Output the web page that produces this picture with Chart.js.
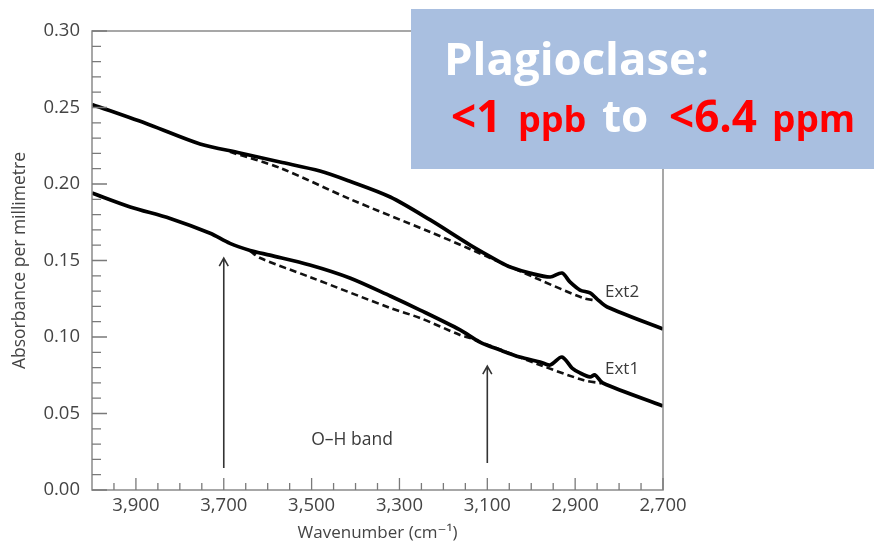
<!DOCTYPE html>
<html><head><meta charset="utf-8">
<script src="https://cdn.jsdelivr.net/npm/chart.js@4.4.0/dist/chart.umd.min.js"></script>
<style>html,body{margin:0;padding:0;background:#fff;} #wrap{position:relative;width:874px;height:543px;}</style>
</head><body><div id="wrap"><canvas id="c" width="874" height="543"></canvas></div>
<script>
// ---- data ----
const xTickLabels = [3900, 3700, 3500, 3300, 3100, 2900, 2700];
const yTickLabels = [0, 0.05, 0.10, 0.15, 0.20, 0.25, 0.30];

const ext2Wn  = [4000, 3868, 3754, 3663, 3572, 3481, 3413, 3321, 3230, 3139, 3071, 3048, 3003, 2957, 2930, 2912, 2889, 2866, 2850, 2827, 2700];
const ext2Abs = [0.252, 0.2386, 0.2262, 0.2203, 0.2144, 0.2085, 0.2018, 0.1915, 0.1765, 0.1601, 0.149, 0.1458, 0.1418, 0.1392, 0.1418, 0.136, 0.1307, 0.1288, 0.1248, 0.1196, 0.1052];

const ext2BaseWn  = [3686, 3572, 3413, 3230, 3145, 2980, 2882, 2852];
const ext2BaseAbs = [0.221, 0.2105, 0.1902, 0.1686, 0.1582, 0.1373, 0.1255, 0.1238];

const ext1Wn  = [4000, 3913, 3822, 3731, 3686, 3640, 3595, 3504, 3413, 3321, 3253, 3162, 3117, 3071, 3026, 2980, 2957, 2930, 2907, 2889, 2866, 2855, 2837, 2700];
const ext1Abs = [0.1941, 0.185, 0.1775, 0.1678, 0.1612, 0.1566, 0.1535, 0.1471, 0.1386, 0.1268, 0.1176, 0.1046, 0.0967, 0.0915, 0.0869, 0.0837, 0.0817, 0.0869, 0.0797, 0.0765, 0.0739, 0.0752, 0.0699, 0.0549];

const ext1BaseWn  = [3640, 3617, 3504, 3321, 3253, 3162, 3139, 2980, 2882, 2840];
const ext1BaseAbs = [0.1562, 0.1516, 0.1392, 0.119, 0.1124, 0.1013, 0.0993, 0.0817, 0.0719, 0.0697];

const arrowWn   = [3700, 3100];
const arrowFrom = [0.0144, 0.0176];
const arrowTo   = [0.1516, 0.081];

const curveLabels = ['Ext2', 'Ext1'];
const curveLabelWn = [2832, 2832];
const curveLabelAbs = [0.1294, 0.0791];
const bandLabel = 'O\u2013H band';
const bandLabelWn = 3408;
const bandLabelAbs = 0.0327;

// ---- helpers ----
const pts = (xs, ys) => xs.map((x, i) => ({x: x, y: ys[i]}));
const fmtWn = v => v.toLocaleString('en-US');

const xMinor = []; for (let v = 2750; v < 4000; v += 50) if (!xTickLabels.includes(v)) xMinor.push(v);
const yMinor = []; for (let i = 1; i < 30; i++) if (i % 5 !== 0) yMinor.push(i / 100);

const AXIS_FONT = "'Open Sans', 'DejaVu Sans', sans-serif";

const decor = {
  id: 'decor',
  afterDatasetsDraw(chart) {
    const ctx = chart.ctx, ca = chart.chartArea;
    const xs = chart.scales.x, ys = chart.scales.y;
    ctx.save();
    // frame
    ctx.strokeStyle = '#8a8a8a'; ctx.lineWidth = 1.5;
    ctx.strokeRect(ca.left, ca.top, ca.right - ca.left, ca.bottom - ca.top);
    // ticks (inward)
    ctx.strokeStyle = '#7a7a7a'; ctx.lineWidth = 1.3;
    ctx.beginPath();
    xTickLabels.forEach(v => { const px = xs.getPixelForValue(v); ctx.moveTo(px, ca.bottom); ctx.lineTo(px, ca.bottom - 12); });
    xMinor.forEach(v => { const px = xs.getPixelForValue(v); ctx.moveTo(px, ca.bottom); ctx.lineTo(px, ca.bottom - 7); });
    yTickLabels.forEach(v => { const py = ys.getPixelForValue(v); ctx.moveTo(ca.left, py); ctx.lineTo(ca.left + 15, py); });
    yMinor.forEach(v => { const py = ys.getPixelForValue(v); ctx.moveTo(ca.left, py); ctx.lineTo(ca.left + 9, py); });
    ctx.stroke();
    // arrows
    ctx.strokeStyle = '#333'; ctx.lineWidth = 1.6;
    arrowWn.forEach((w, i) => {
      const px = xs.getPixelForValue(w);
      const y0 = ys.getPixelForValue(arrowFrom[i]);
      const y1 = ys.getPixelForValue(arrowTo[i]);
      ctx.beginPath();
      ctx.moveTo(px, y0); ctx.lineTo(px, y1);
      ctx.moveTo(px - 4.5, y1 + 8); ctx.lineTo(px, y1); ctx.lineTo(px + 4.5, y1 + 8);
      ctx.stroke();
    });
    // labels
    ctx.fillStyle = '#3a3a3a';
    ctx.font = "17px " + AXIS_FONT;
    ctx.textAlign = 'left'; ctx.textBaseline = 'middle';
    curveLabels.forEach((t, i) => ctx.fillText(t, xs.getPixelForValue(curveLabelWn[i]), ys.getPixelForValue(curveLabelAbs[i])));
    ctx.font = "17.5px " + AXIS_FONT;
    ctx.textAlign = 'center';
    ctx.fillText(bandLabel, xs.getPixelForValue(bandLabelWn), ys.getPixelForValue(bandLabelAbs));
    ctx.restore();
  },
  afterDraw(chart) {
    const ctx = chart.ctx;
    ctx.save();
    ctx.fillStyle = '#a9bfe0';
    ctx.fillRect(411, 9, 463, 160);
    ctx.textBaseline = 'alphabetic'; ctx.textAlign = 'left';
    const F = "'Open Sans', 'Noto Sans', sans-serif";
    ctx.fillStyle = '#ffffff';
    ctx.font = "bold 45.5px " + F;
    ctx.fillText('Plagioclase:', 444, 75);
    ctx.fillStyle = '#ff0000';
    ctx.font = "bold 44px " + F;
    ctx.fillText('<1', 451, 132);
    ctx.font = "bold 36px " + F;
    ctx.fillText('ppb', 518, 132);
    ctx.fillStyle = '#ffffff';
    ctx.font = "bold 44px " + F;
    ctx.fillText('to', 602, 132);
    ctx.fillStyle = '#ff0000';
    ctx.fillText('<6.4', 669, 132);
    ctx.font = "bold 37px " + F;
    ctx.fillText('ppm', 772, 132);
    ctx.restore();
  }
};

new Chart(document.getElementById('c'), {
  type: 'line',
  data: {
    datasets: [
      {data: pts(ext2Wn, ext2Abs), borderColor: '#000', borderWidth: 3.7, pointRadius: 0, tension: 0.3},
      {data: pts(ext2BaseWn, ext2BaseAbs), borderColor: '#111', borderWidth: 2.6, borderDash: [7, 4], pointRadius: 0, tension: 0.3},
      {data: pts(ext1Wn, ext1Abs), borderColor: '#000', borderWidth: 3.7, pointRadius: 0, tension: 0.3},
      {data: pts(ext1BaseWn, ext1BaseAbs), borderColor: '#111', borderWidth: 2.6, borderDash: [7, 4], pointRadius: 0, tension: 0.3}
    ]
  },
  options: {
    responsive: false, animation: false, devicePixelRatio: 1,
    layout: {padding: {left: 0, top: 31, right: 211, bottom: 0}},
    plugins: {legend: {display: false}, tooltip: {enabled: false}},
    scales: {
      x: {
        type: 'linear', reverse: true, min: 2700, max: 4000,
        grid: {display: false, drawTicks: false}, border: {display: false},
        afterBuildTicks: s => { s.ticks = xTickLabels.map(v => ({value: v})); },
        afterFit: s => { s.height = 53; },
        ticks: {color: '#444', font: {family: AXIS_FONT, size: 18.5}, padding: 5, maxRotation: 0, autoSkip: false, callback: v => fmtWn(v)},
        title: {display: true, text: 'Wavenumber (cm\u207B\u00B9)', color: '#444', font: {family: AXIS_FONT, size: 17}, padding: {top: 0, bottom: 0}}
      },
      y: {
        type: 'linear', min: 0, max: 0.3,
        grid: {display: false, drawTicks: false}, border: {display: false},
        afterBuildTicks: s => { s.ticks = yTickLabels.map(v => ({value: v})); },
        afterFit: s => { s.width = 92; },
        ticks: {color: '#444', font: {family: AXIS_FONT, size: 18.5}, padding: 12, callback: v => v.toFixed(2)},
        title: {display: true, text: 'Absorbance per millimetre', color: '#444', font: {family: AXIS_FONT, size: 17.5}, padding: {top: 10, bottom: 0}}
      }
    }
  },
  plugins: [decor]
});
</script></body></html>
